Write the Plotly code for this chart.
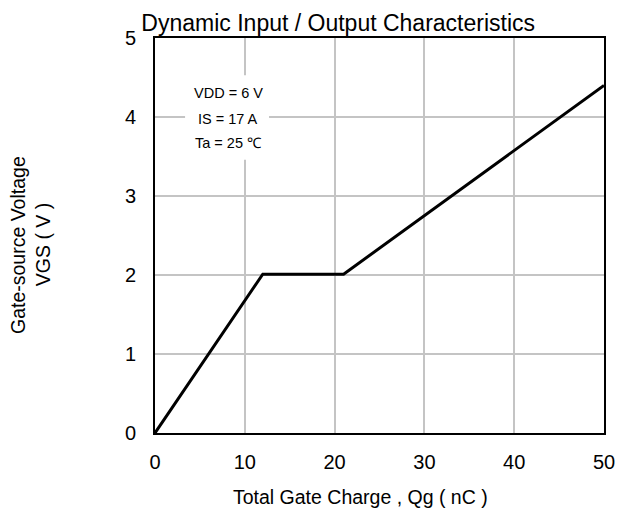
import plotly.graph_objects as go

qg = [0, 12, 21, 50]
vgs = [0, 2.01, 2.01, 4.4]

x_ticks = [0, 10, 20, 30, 40, 50]
y_ticks = [0, 1, 2, 3, 4, 5]

cond_lines = ["VDD = 6 V", "IS = 17 A", "Ta = 25 \u2103"]
cond_y = [4.31, 3.98, 3.67]

FONT = "Liberation Sans, Arial, sans-serif"

fig = go.Figure()
fig.add_trace(go.Scatter(x=qg, y=vgs, mode="lines",
                         line=dict(color="black", width=3), showlegend=False))

fig.add_shape(type="rect", xref="x", yref="y", x0=3.35, x1=12.7, y0=3.46, y1=4.53,
              fillcolor="white", line=dict(width=0), layer="between")

for t, yy in zip(cond_lines, cond_y):
    fig.add_annotation(x=8.15, y=yy, xref="x", yref="y", text=t, showarrow=False,
                       font=dict(family=FONT, size=14.5, color="black"))

fig.add_annotation(x=-0.305, y=0.476, xref="paper", yref="paper", text="Gate-source Voltage",
                   textangle=-90, showarrow=False, xanchor="center", yanchor="middle",
                   font=dict(family=FONT, size=19.5, color="black"))
fig.add_annotation(x=-0.249, y=0.476, xref="paper", yref="paper", text="VGS ( V )",
                   textangle=-90, showarrow=False, xanchor="center", yanchor="middle",
                   font=dict(family=FONT, size=19.5, color="black"))
fig.add_annotation(x=0.457, y=-0.162, xref="paper", yref="paper", text="Total Gate Charge , Qg ( nC )",
                   showarrow=False, xanchor="center", yanchor="middle",
                   font=dict(family=FONT, size=19.5, color="black"))

fig.update_layout(
    width=629, height=507,
    margin=dict(l=147, r=33, t=30, b=82),
    paper_bgcolor="white", plot_bgcolor="white",
    font=dict(family=FONT, color="black"),
    title=dict(text="Dynamic Input / Output Characteristics", xref="container", x=0.525,
               xanchor="center", yref="container", y=0.971, yanchor="middle",
               font=dict(family=FONT, size=23, color="black")),
    xaxis=dict(range=[0, 50], tickvals=x_ticks, showgrid=True, gridcolor="#c4c4c4", gridwidth=1.5,
               showline=True, linecolor="black", linewidth=2, mirror=True, zeroline=False,
               ticks="", ticklabelstandoff=10, tickfont=dict(size=20)),
    yaxis=dict(range=[0, 5], tickvals=y_ticks, showgrid=True, gridcolor="#c4c4c4", gridwidth=1.5,
               showline=True, linecolor="black", linewidth=2, mirror=True, zeroline=False,
               ticks="", ticklabelstandoff=13, tickfont=dict(size=20)),
)

fig.write_html("out.html")
